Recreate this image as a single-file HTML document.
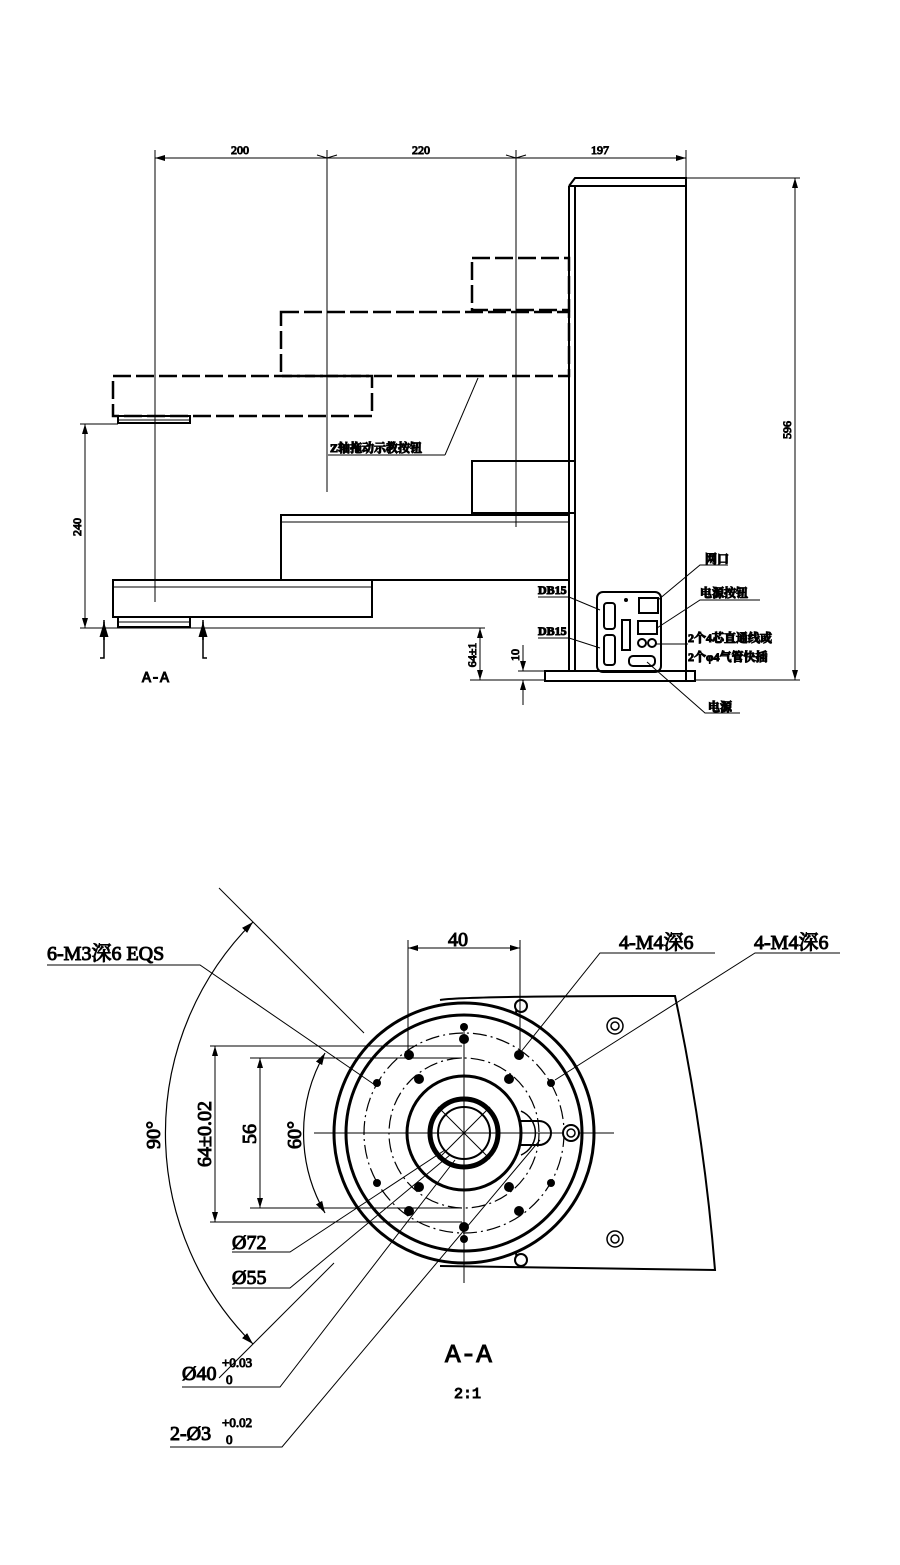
<!DOCTYPE html>
<html><head><meta charset="utf-8"><style>
html,body{margin:0;padding:0;background:#fff}
svg{display:block}
text{font-family:"Liberation Serif","Noto Serif CJK SC",serif;fill:#000}
.m{font-family:"Liberation Mono","Noto Sans CJK SC",monospace}
</style></head><body>
<svg width="900" height="1565" viewBox="0 0 900 1565" xmlns="http://www.w3.org/2000/svg" fill="none" stroke="#000">
<defs>
<marker id="a" viewBox="0 0 10 6" refX="10" refY="3" markerWidth="10" markerHeight="6" orient="auto-start-reverse"><path d="M0,0L10,3L0,6z" fill="#000" stroke="none"/></marker>
</defs>
<!-- TOP VIEW -->
<g stroke-width="1">
<line x1="155" y1="158" x2="686" y2="158" marker-start="url(#a)" marker-end="url(#a)"/>
<line x1="327" y1="158" x2="317" y2="155"/><line x1="327" y1="158" x2="337" y2="155"/>
<line x1="516" y1="158" x2="506" y2="155"/><line x1="516" y1="158" x2="526" y2="155"/>
<line x1="155" y1="150" x2="155" y2="602"/>
<line x1="327" y1="150" x2="327" y2="492"/>
<line x1="516" y1="150" x2="516" y2="527"/>
<line x1="686" y1="150" x2="686" y2="178"/>
<line x1="795" y1="178" x2="795" y2="680" marker-start="url(#a)" marker-end="url(#a)"/>
<line x1="686" y1="178" x2="800" y2="178"/>
<line x1="695" y1="680" x2="800" y2="680"/>
<line x1="85" y1="424" x2="85" y2="628" marker-start="url(#a)" marker-end="url(#a)"/>
<line x1="80" y1="424" x2="118" y2="424"/>
<line x1="80" y1="628" x2="485" y2="628"/>
<line x1="480" y1="628" x2="480" y2="680" marker-start="url(#a)" marker-end="url(#a)"/>
<line x1="470" y1="680" x2="545" y2="680"/>
<line x1="518" y1="671" x2="545" y2="671"/>
<line x1="523" y1="645" x2="523" y2="671" marker-end="url(#a)"/>
<line x1="523" y1="705" x2="523" y2="680" marker-end="url(#a)"/>
</g>
<text x="240" y="154" font-size="12" text-anchor="middle">200</text>
<text x="421" y="154" font-size="12" text-anchor="middle">220</text>
<text x="600" y="154" font-size="12" text-anchor="middle">197</text>
<text transform="translate(791,430) rotate(-90)" font-size="12" text-anchor="middle">596</text>
<text transform="translate(81,527) rotate(-90)" font-size="12" text-anchor="middle">240</text>
<text transform="translate(476,655) rotate(-90)" font-size="12" text-anchor="middle">64±1</text>
<text transform="translate(519,655) rotate(-90)" font-size="12" text-anchor="middle">10</text>
<!-- column -->
<g stroke-width="2">
<path d="M569,186 L575,178 L686,178 L686,680 M569,186 L569,671 M575,186 L575,671 M569,186 L686,186"/>
<rect x="545" y="671" width="150" height="10"/>
</g>
<!-- dashed ghost -->
<g stroke-width="2.5" stroke-dasharray="18,5">
<rect x="472" y="258" width="97" height="52"/>
<rect x="281" y="312" width="288" height="64"/>
<rect x="113" y="376" width="259" height="40"/>
</g>
<rect x="118" y="416" width="72" height="7" stroke-width="2"/>
<line x1="118" y1="420" x2="190" y2="420" stroke-width="1"/>
<!-- solid -->
<g stroke-width="2">
<rect x="472" y="461" width="103" height="52"/>
<rect x="281" y="515" width="288" height="65"/>
<rect x="113" y="580" width="259" height="37"/>
<rect x="118" y="617" width="72" height="10"/>
<line x1="118" y1="622" x2="190" y2="622" stroke-width="1"/>
<line x1="113" y1="587" x2="372" y2="587" stroke-width="1"/>
<line x1="281" y1="522" x2="569" y2="522" stroke-width="1"/>
</g>
<!-- section marks -->
<g stroke-width="1.5">
<path d="M104,620 V658 H100 M203,620 V658 H207"/>
<line x1="104" y1="622" x2="104" y2="640" marker-start="url(#a)"/>
<line x1="203" y1="622" x2="203" y2="640" marker-start="url(#a)"/>
</g>
<text x="142" y="682" font-size="15" class="m">A-A</text>
<!-- Z leader -->
<line x1="478" y1="378" x2="445" y2="455" stroke-width="1"/>
<line x1="328" y1="455" x2="445" y2="455" stroke-width="1"/>
<text x="330" y="452" font-size="12" font-weight="bold">Z轴拖动示教按钮</text>
<!-- connector panel -->
<g stroke-width="2">
<rect x="597" y="592" width="64" height="80" rx="6"/>
<rect x="604" y="603" width="11" height="26" rx="3"/>
<rect x="604" y="635" width="11" height="30" rx="3"/>
<rect x="622" y="620" width="8" height="30"/>
<rect x="639" y="598" width="19" height="15"/>
<rect x="638" y="621" width="19" height="13"/>
<circle cx="642" cy="643" r="4"/><circle cx="652" cy="643" r="4"/>
<rect x="629" y="656" width="26" height="10" rx="4"/>
</g>
<circle cx="626" cy="600" r="2" fill="#000" stroke="none"/>
<g stroke-width="1">
<path d="M538,597 H569 L600,610"/>
<path d="M538,638 H569 L600,648"/>
<path d="M658,600 L700,565 H728"/>
<path d="M657,628 L700,600 H760"/>
<path d="M655,644 H688"/>
<path d="M647,662 L705,713 H740"/>
</g>
<g font-size="12" font-weight="bold">
<text x="538" y="594">DB15</text>
<text x="538" y="635">DB15</text>
<text x="705" y="563">网口</text>
<text x="700" y="597">电源按钮</text>
<text x="688" y="642">2个4芯直通线或</text>
<text x="688" y="661">2个φ4气管快插</text>
<text x="708" y="711">电源</text>
</g>

<!-- BOTTOM VIEW -->
<g transform="translate(464,1133)">
<g stroke-width="1">
<line x1="-150" y1="0" x2="150" y2="0"/>
<line x1="0" y1="-110" x2="0" y2="150"/>
</g>
<path d="M-24,-133 Q0,-137 211,-137 Q240,0 251,137 L-24,133" stroke-width="2" fill="none"/>
<circle r="130" stroke-width="3" fill="#fff"/>
<circle r="118" stroke-width="3"/>
<circle r="100" stroke-width="1.2" stroke-dasharray="14,4,2,4"/>
<circle r="75" stroke-width="1.2" stroke-dasharray="14,4,2,4"/>
<circle r="57" stroke-width="3"/>
<path d="M55,-12 H75 A12,12 0 0 1 75,12 H55" stroke-width="2"/>
<path d="M57,-22 A24,24 0 0 1 57,22" stroke-width="1.5"/>
<circle r="34" stroke-width="5"/>
<circle r="26" stroke-width="2"/>
<g stroke-width="1"><line x1="-26" y1="-26" x2="26" y2="26"/><line x1="-26" y1="26" x2="26" y2="-26"/></g>
<line x1="-150" y1="0" x2="150" y2="0" stroke-width="1"/>
<line x1="0" y1="-110" x2="0" y2="150" stroke-width="1"/>
<g fill="#000" stroke="none">
<circle cx="0" cy="-106" r="4"/><circle cx="0" cy="-94" r="5"/>
<circle cx="0" cy="94" r="5"/><circle cx="0" cy="106" r="4"/>
<circle cx="-55" cy="-78" r="5"/><circle cx="55" cy="-78" r="5"/>
<circle cx="-55" cy="78" r="5"/><circle cx="55" cy="78" r="5"/>
<circle cx="-45" cy="-54" r="5"/><circle cx="45" cy="-54" r="5"/>
<circle cx="-45" cy="54" r="5"/><circle cx="45" cy="54" r="5"/>
<circle cx="-87" cy="-50" r="4"/><circle cx="87" cy="-50" r="4"/>
<circle cx="-87" cy="50" r="4"/><circle cx="87" cy="50" r="4"/>
</g>
<circle cx="107" cy="0" r="8" stroke-width="2" fill="#fff"/><circle cx="107" cy="0" r="4" stroke-width="1.5"/>
<path d="M52,-118 Q52,-132 60,-132 M52,118 Q52,132 60,132" stroke-width="2"/>
<circle cx="57" cy="-127" r="6" stroke-width="2" fill="#fff"/>
<circle cx="57" cy="127" r="6" stroke-width="2" fill="#fff"/>
<circle cx="151" cy="-107" r="8" stroke-width="1.5"/><circle cx="151" cy="-107" r="4" stroke-width="1.5"/>
<circle cx="151" cy="106" r="8" stroke-width="1.5"/><circle cx="151" cy="106" r="4" stroke-width="1.5"/>
<!-- 90 arc -->
<path d="M-211,-211 A298,298 0 0 0 -211,211" stroke-width="1.2" marker-start="url(#a)" marker-end="url(#a)"/>
<line x1="-245" y1="-245" x2="-100" y2="-100" stroke-width="1"/>
<line x1="-245" y1="245" x2="-130" y2="130" stroke-width="1"/>
<path d="M-139,-80 A160,160 0 0 0 -139,80" stroke-width="1.2" marker-start="url(#a)" marker-end="url(#a)"/>
</g>
<!-- dims bottom -->
<g stroke-width="1">
<line x1="210" y1="1046" x2="462" y2="1046"/>
<line x1="210" y1="1222" x2="462" y2="1222"/>
<line x1="250" y1="1058" x2="462" y2="1058"/>
<line x1="250" y1="1208" x2="462" y2="1208"/>
<line x1="215" y1="1046" x2="215" y2="1222" marker-start="url(#a)" marker-end="url(#a)"/>
<line x1="260" y1="1058" x2="260" y2="1208" marker-start="url(#a)" marker-end="url(#a)"/>
<line x1="408" y1="940" x2="408" y2="1060"/>
<line x1="520" y1="940" x2="520" y2="1060"/>
<line x1="408" y1="948" x2="520" y2="948" marker-start="url(#a)" marker-end="url(#a)"/>
<line x1="520" y1="1060" x2="520" y2="1050"/>
<!-- leaders -->
<path d="M47,965 H200 L375,1085"/>
<path d="M715,953 H600 L520,1053"/>
<path d="M840,953 H755 L555,1080"/>
<path d="M232,1252 H290 L445,1150"/>
<path d="M232,1288 H290 L450,1155"/>
<path d="M182,1387 H280 L455,1160"/>
<path d="M170,1447 H282 L540,1140"/>
</g>
<g font-size="20" class="m">
<text x="47" y="960">6-M3深6  EQS</text>
<text x="619" y="949">4-M4深6</text>
<text x="754" y="949">4-M4深6</text>
<text x="448" y="946">40</text>
<text transform="translate(160,1135) rotate(-90)" text-anchor="middle">90°</text>
<text transform="translate(301,1135) rotate(-90)" text-anchor="middle">60°</text>
<text transform="translate(211,1134) rotate(-90)" text-anchor="middle">64±0.02</text>
<text transform="translate(256,1134) rotate(-90)" text-anchor="middle">56</text>
<text x="232" y="1249">Ø72</text>
<text x="232" y="1284">Ø55</text>
<text x="182" y="1380">Ø40</text>
<text x="170" y="1440">2-Ø3</text>
</g>
<g font-size="13" class="m">
<text x="222" y="1367">+0.03</text><text x="226" y="1384">0</text>
<text x="222" y="1427">+0.02</text><text x="226" y="1444">0</text>
</g>
<text x="445" y="1362" font-size="26" class="m">A-A</text>
<text x="454" y="1398" font-size="15" class="m">2:1</text>
</svg>
</body></html>
